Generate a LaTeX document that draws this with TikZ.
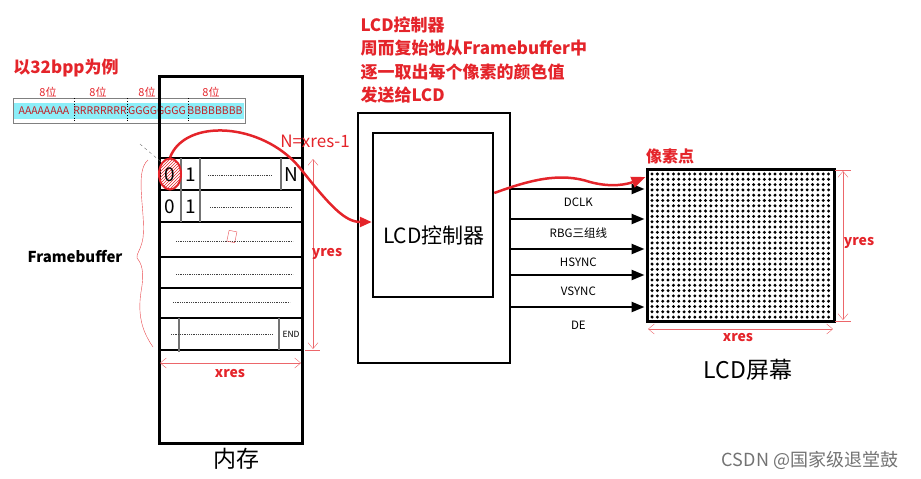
\documentclass[tikz,border=0pt]{standalone}
\usepackage{fontspec}
\setmainfont{Noto Sans CJK SC}
\usetikzlibrary{arrows.meta,patterns,shapes.geometric}
\definecolor{annred}{RGB}{228,36,42}
\definecolor{band}{RGB}{140,238,248}

\begin{document}
\begin{tikzpicture}[x=1pt,y=-1pt,text centered,
  redtxt/.style={text=annred,font=\bfseries\fontsize{14}{16}\selectfont},
  bits/.style={text=annred!85!black,font=\fontsize{10.5}{12}\selectfont,inner sep=0},
  dim/.style={draw=annred!70,thin,{Straight Barb[length=6pt,width=10pt]}-{Straight Barb[length=6pt,width=10pt]}},
  tick/.style={draw=annred!70,thin},
  rowline/.style={line width=2.4pt},
  cell/.style={draw=black!55,line width=1.2pt},
  dots/.style={black!75,line width=0.6pt,dash pattern=on 0.9pt off 0.9pt},
  sig/.style={line width=2.4pt,shorten >=1pt,-{Triangle[length=13pt,width=10pt]}},
  lbl/.style={font=\fontsize{11.5}{13}\selectfont},
  big/.style={font=\fontsize{23}{26}\selectfont}]
  \useasboundingbox (0,0) rectangle (921,479);

  % 32bpp example
  \node (bpp) at (66,68) [redtxt,font=\bfseries\fontsize{17}{20}\selectfont] {以32bpp为例};
  \draw[black!50,fill=white] (13,98) rectangle (245,123);
  \fill[band] (14,103) rectangle (244,119);
  \draw[dotted,thick] (74,98) -- (74,123);
  \draw[dotted,thick] (127,98) -- (127,123);
  \draw[dotted,thick] (188,98) -- (188,123);
  \node (abits) at (44,111) [bits] {AAAAAAAA};
  \node (rbits) at (100,111) [bits] {RRRRRRRR};
  \node (gbits) at (157,111) [bits] {GGGGGGGG};
  \node (bbits) at (215,111) [bits] {BBBBBBBB};
  \node (a8) at (48,92) [text=annred,font=\fontsize{11}{12}\selectfont] {8位};
  \node (r8) at (98,92) [text=annred,font=\fontsize{11}{12}\selectfont] {8位};
  \node (g8) at (147,92) [text=annred,font=\fontsize{11}{12}\selectfont] {8位};
  \node (b8) at (211,92) [text=annred,font=\fontsize{11}{12}\selectfont] {8位};

  % memory
  \draw[line width=3pt] (159,76) rectangle (302,443);
  \draw[rowline] (159,158) -- (302,158);
  \draw[rowline] (159,190) -- (302,190);
  \draw[rowline] (159,222) -- (302,222);
  \draw[rowline] (159,257) -- (302,257);
  \draw[rowline] (159,288) -- (302,288);
  \draw[rowline] (159,318) -- (302,318);
  \draw[rowline] (159,350) -- (302,350);

  \draw[cell] (181,158) -- (181,222);
  \draw[cell] (200,158) -- (200,222);
  \draw[cell] (281,158) -- (281,190);
  \draw[cell] (179,318) -- (179,352);
  \draw[cell] (279,318) -- (279,350);

  \node (pix0) at (170,174) [ellipse,draw=annred,line width=2pt,minimum width=22pt,minimum height=31pt,
    pattern=north east lines,pattern color=annred] {};
  \node (z1) at (170,175) [font=\fontsize{19}{20}\selectfont] {0};
  \node (o1) at (191,175) [font=\fontsize{19}{20}\selectfont] {1};
  \node (n1) at (291,175) [font=\fontsize{19}{20}\selectfont] {N};
  \node (z2) at (170,207) [font=\fontsize{19}{20}\selectfont] {0};
  \node (o2) at (191,207) [font=\fontsize{19}{20}\selectfont] {1};
  \node (end) at (291,334) [font=\fontsize{8.5}{10}\selectfont] {END};

  \draw[dots] (208,175) -- (272,175);
  \draw[dots] (210,207) -- (292,207);
  \draw[dots] (176,241) -- (293,241);
  \draw[dots] (176,274) -- (293,274);
  \draw[dots] (173,302) -- (290,302);
  \draw[dots] (171,334) -- (272,334);
  \draw[annred!80,thin,rotate around={-12:(232,236)}] (228,231) rectangle (236,242);

  \draw[black!55,thin,dashed] (140,144) -- (pix0.north west);

  % framebuffer brace
  \draw[annred!85,thin] (148,160) .. controls (134,172) and (146,212) .. (143,238)
    .. controls (141,250) and (136,254) .. (137,258)
    .. controls (141,263) and (145,270) .. (141,292)
    .. controls (137,318) and (144,334) .. (153,347);
  \node (fb) at (75,257) [font=\bfseries\fontsize{15}{17}\selectfont] {Framebuffer};

  \draw[dim] (313,159) -- (313,349);
  \draw[tick] (305,350) -- (320,350);
  \node (myres) at (327,254) [redtxt] {yres};
  \draw[dim] (160,363) -- (301,363);
  \node (mxres) at (230,374) [redtxt] {xres};
  \node (nlast) at (315,141) [text=annred,font=\fontsize{17}{19}\selectfont] {N=xres-1};
  \node (mem) at (236,459) [big] {内存};

  % LCD controller
  \node (note) at (357,60) [anchor=west,align=left,text=annred,
    font=\bfseries\fontsize{17}{23.5}\selectfont] {LCD控制器\\周而复始地从Framebuffer中\\逐一取出每个像素的颜色值\\发送给LCD};
  \node (ctrl) at (434,238) [draw,line width=2.5pt,minimum width=152pt,minimum height=250pt] {};
  \node (ctrlin) at (433,215) [draw,line width=2.5pt,minimum width=120pt,minimum height=164pt] {};
  \node (ctrltxt) at (434,236) [font=\fontsize{21}{24}\selectfont] {LCD控制器};

  \draw[annred,line width=2.5pt,-{Triangle[length=12pt,width=10pt]}] (pix0.north)
    .. controls (185,118) and (262,122) .. (300,168)
    .. controls (330,206) and (345,222) .. ([yshift=-7pt]ctrlin.west);

  % LCD screen
  \node (screen) at (740.5,245.5) [draw,line width=3pt,minimum width=187pt,minimum height=152pt] {};
  \foreach \i in {0,...,33}
    \foreach \j in {0,...,27}
      \fill (652+\i*5.35,174+\j*5.3) circle (1.65);

  \draw[sig] (ctrl.east |- 0,189) -- (screen.west |- 0,189) node[midway,lbl,yshift=-13pt] {DCLK};
  \draw[sig] (ctrl.east |- 0,219) -- (screen.west |- 0,219) node[midway,lbl,yshift=-14pt] {RBG三组线};
  \draw[sig] (ctrl.east |- 0,249) -- (screen.west |- 0,249) node[midway,lbl,yshift=-13pt] {HSYNC};
  \draw[sig] (ctrl.east |- 0,275) -- (screen.west |- 0,275) node[midway,lbl,yshift=-16pt] {VSYNC};
  \draw[sig] (ctrl.east |- 0,307) -- (screen.west |- 0,307) node[midway,lbl,yshift=-18pt] {DE};

  \draw[annred,line width=2.5pt,-{Triangle[length=14pt,width=11pt]}] (ctrlin.east |- 0,193)
    .. controls (530,180) and (560,172) .. (590,182)
    .. controls (612,188) and (628,184) .. ([yshift=-9pt]screen.north west);
  \node (pixel) at (670,156) [redtxt,font=\bfseries\fontsize{16}{18}\selectfont] {像素点};

  \draw[dim] (843,171) -- (843,320);
  \draw[tick] (835,170) -- (851,170);
  \draw[tick] (835,321) -- (851,321);
  \node (syres) at (859,243) [redtxt] {yres};
  \draw[dim] (648,329) -- (833,329);
  \node (sxres) at (738,338) [redtxt] {xres};
  \node (lcd) at (748,370) [big] {LCD屏幕};

  \node (csdn) at (810,460) [text=black!55,font=\fontsize{18}{20}\selectfont] {CSDN @国家级退堂鼓};
\end{tikzpicture}
\end{document}
